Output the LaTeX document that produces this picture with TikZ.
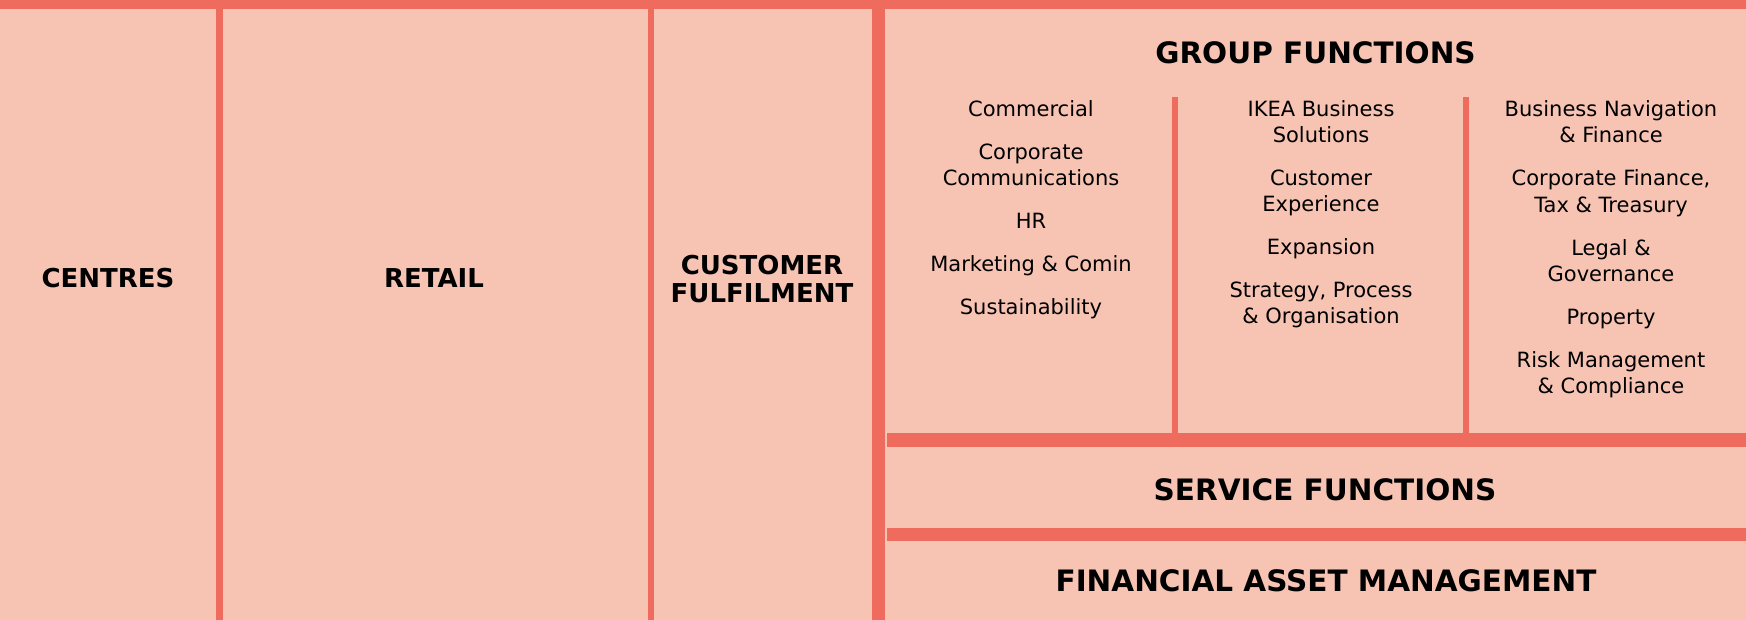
\documentclass[tikz,border=0pt]{standalone}
\usepackage{fontspec}
\setmainfont{DejaVu Sans}
\usepackage{tikz}
\usetikzlibrary{positioning}
\usepackage{xcolor}
\definecolor{unitpink}{RGB}{247,196,180}
\definecolor{unitred}{RGB}{239,107,93}
\tikzset{
  head/.style={font=\bfseries\fontsize{26}{28}\selectfont,align=center,anchor=base,inner sep=0pt},
  bighead/.style={head,font=\bfseries\fontsize{29.5}{31}\selectfont},
  unitlist/.style={font=\fontsize{21}{26.3}\selectfont,align=center,anchor=base,inner sep=0pt},
  bar/.style={fill=unitred}
}
\begin{document}
\begin{tikzpicture}[x=1pt,y=-1pt]
\useasboundingbox (0,0) rectangle (1746,620);
\fill[unitpink] (0,0) rectangle (1746,620);
\fill[bar] (0,0) rectangle (1746,9);
\fill[bar] (216,9) rectangle (223,620);
\fill[bar] (648,9) rectangle (654,620);
\fill[bar] (872,9) rectangle (885,620);
\fill[bar] (887,433) rectangle (1746,447);
\fill[bar] (887,528) rectangle (1746,541);
\fill[bar] (1172,97) rectangle (1178,433);
\fill[bar] (1463,97) rectangle (1469,433);
\node[head] (centres) at (108,287.5) {CENTRES};
\node[head] (retail) at (434,287.5) {RETAIL};
\node[head] (fulfil) at (762,302.3) {CUSTOMER\\FULFILMENT};
\node[bighead] (group) at (1315.5,63.3) {GROUP FUNCTIONS};
\node[bighead] (service) at (1325,500) {SERVICE FUNCTIONS};
\node[bighead] (asset) at (1326,591.5) {FINANCIAL ASSET MANAGEMENT};
\node[unitlist] (colA) at (1031,314.5) {Commercial\\[16.7pt]
  Corporate\\Communications\\[16.7pt]
  HR\\[16.7pt]
  Marketing \& Comin\\[16.7pt]
  Sustainability};
\node[unitlist] (colB) at (1321,324) {IKEA Business\\Solutions\\[16.7pt]
  Customer\\Experience\\[16.7pt]
  Expansion\\[16.7pt]
  Strategy, Process\\\& Organisation};
\node[unitlist] (colC) at (1611,393.7) {Business Navigation\\\& Finance\\[16.7pt]
  Corporate Finance,\\Tax \& Treasury\\[16.7pt]
  Legal \&\\Governance\\[16.7pt]
  Property\\[16.7pt]
  Risk Management\\\& Compliance};
\end{tikzpicture}
\end{document}
